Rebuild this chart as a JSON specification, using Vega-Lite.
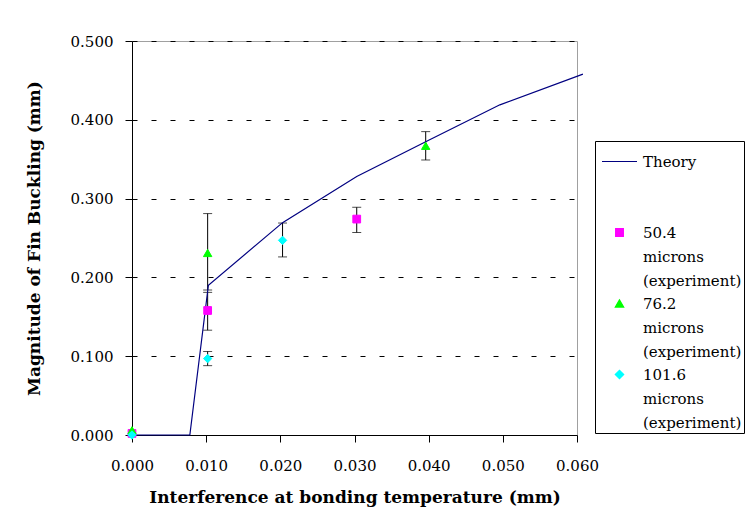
{
  "$schema": "https://vega.github.io/schema/vega-lite/v6.json",
  "autosize": "none",
  "width": 445,
  "height": 394,
  "padding": {"left": 132, "top": 41, "right": 172, "bottom": 77},
  "background": "white",
  "datasets": {
    "theory": [
      {"x": 0.0, "y": 0.0},
      {"x": 0.0078, "y": 0.0},
      {"x": 0.0103, "y": 0.19},
      {"x": 0.0203, "y": 0.2695},
      {"x": 0.0303, "y": 0.328},
      {"x": 0.04, "y": 0.374},
      {"x": 0.0496, "y": 0.419},
      {"x": 0.0608, "y": 0.458}
    ],
    "exp": [
      {"series": "50.4 microns (experiment)", "x": 0.0, "y": 0.002, "lo": null, "hi": null},
      {"series": "50.4 microns (experiment)", "x": 0.0102, "y": 0.158, "lo": 0.133, "hi": 0.181},
      {"series": "50.4 microns (experiment)", "x": 0.0303, "y": 0.274, "lo": 0.257, "hi": 0.289},
      {"series": "76.2 microns (experiment)", "x": 0.0, "y": 0.006, "lo": null, "hi": null},
      {"series": "76.2 microns (experiment)", "x": 0.0102, "y": 0.231, "lo": 0.184, "hi": 0.281},
      {"series": "76.2 microns (experiment)", "x": 0.0396, "y": 0.367, "lo": 0.349, "hi": 0.385},
      {"series": "101.6 microns (experiment)", "x": 0.0, "y": 0.0, "lo": null, "hi": null},
      {"series": "101.6 microns (experiment)", "x": 0.0102, "y": 0.097, "lo": 0.088, "hi": 0.106},
      {"series": "101.6 microns (experiment)", "x": 0.0203, "y": 0.247, "lo": 0.226, "hi": 0.269}
    ]
  },
  "encoding": {
    "x": {
      "field": "x", "type": "quantitative",
      "scale": {"domain": [0, 0.06], "nice": false, "zero": false},
      "axis": {
        "title": "Interference at bonding temperature (mm)",
        "values": [0, 0.01, 0.02, 0.03, 0.04, 0.05, 0.06],
        "format": ".3f",
        "grid": false,
        "domainColor": "black",
        "tickColor": "black",
        "tickSize": 7,
        "labelFont": "DejaVu Serif",
        "labelFontSize": 15,
        "labelColor": "black",
        "labelPadding": 16,
        "labelFlush": false,
        "titleFont": "DejaVu Serif",
        "titleFontSize": 17,
        "titleFontWeight": "bold",
        "titleColor": "black",
        "titlePadding": 16
      }
    },
    "y": {
      "field": "y", "type": "quantitative",
      "scale": {"domain": [0, 0.5], "nice": false},
      "axis": {
        "title": "Magnitude of Fin Buckling (mm)",
        "values": [0, 0.1, 0.2, 0.3, 0.4, 0.5],
        "format": ".3f",
        "grid": true,
        "gridColor": "black",
        "gridDash": [5, 14],
        "gridWidth": 1,
        "domainColor": "black",
        "tickColor": "black",
        "tickSize": 7,
        "labelFont": "DejaVu Serif",
        "labelFontSize": 15,
        "labelColor": "black",
        "labelPadding": 12,
        "titleFont": "DejaVu Serif",
        "titleFontSize": 17,
        "titleFontWeight": "bold",
        "titleColor": "black",
        "titlePadding": 27
      }
    }
  },
  "layer": [
    {
      "data": {"name": "exp"},
      "transform": [{"filter": "datum.lo != null"}],
      "mark": {"type": "rule", "color": "black", "strokeWidth": 1},
      "encoding": {"y": {"field": "lo", "type": "quantitative"}, "y2": {"field": "hi"}}
    },
    {
      "data": {"name": "exp"},
      "transform": [{"filter": "datum.lo != null"}],
      "mark": {"type": "tick", "orient": "horizontal", "size": 9, "thickness": 1, "color": "black"},
      "encoding": {"y": {"field": "lo", "type": "quantitative"}}
    },
    {
      "data": {"name": "exp"},
      "transform": [{"filter": "datum.lo != null"}],
      "mark": {"type": "tick", "orient": "horizontal", "size": 9, "thickness": 1, "color": "black"},
      "encoding": {"y": {"field": "hi", "type": "quantitative"}}
    },
    {
      "data": {"name": "theory"},
      "mark": {"type": "line", "color": "#000080", "strokeWidth": 1.2, "clip": false},
      "encoding": {}
    },
    {
      "data": {"name": "exp"},
      "mark": {"type": "point", "filled": true, "opacity": 1, "strokeWidth": 1},
      "encoding": {
        "color": {
          "field": "series", "type": "nominal",
          "scale": {
            "domain": ["Theory", "50.4 microns (experiment)", "76.2 microns (experiment)", "101.6 microns (experiment)"],
            "range": ["#000080", "#ff00ff", "#00ff00", "#00ffff"]
          },
          "legend": {
            "title": null,
            "orient": "none",
            "legendX": 463,
            "legendY": 100,
            "direction": "vertical",
            "strokeColor": "black",
            "fillColor": "white",
            "padding": 2,
            "symbolOffset": 4,
            "labelOffset": 5,
            "rowPadding": 7,
            "labelFontSize": 15,
            "labelColor": "black",
            "labelFont": "DejaVu Serif",
            "labelLimit": 200,
            "symbolStrokeWidth": 1.2,
            "symbolOpacity": 1,
            "labelExpr": "datum.label == 'Theory' ? ['Theory', '', ''] : split(datum.label, ' ')"
          }
        },
        "stroke": {
          "field": "series", "type": "nominal",
          "scale": {
            "domain": ["Theory", "50.4 microns (experiment)", "76.2 microns (experiment)", "101.6 microns (experiment)"],
            "range": ["#000080", "#ff00ff", "#00ff00", "#00ffff"]
          }
        },
        "shape": {
          "field": "series", "type": "nominal",
          "scale": {
            "domain": ["Theory", "50.4 microns (experiment)", "76.2 microns (experiment)", "101.6 microns (experiment)"],
            "range": ["stroke", "square", "triangle-up", "diamond"]
          }
        },
        "size": {
          "field": "series", "type": "nominal",
          "scale": {
            "type": "ordinal",
            "domain": ["Theory", "50.4 microns (experiment)", "76.2 microns (experiment)", "101.6 microns (experiment)"],
            "range": [1225, 60, 70, 70]
          }
        }
      }
    }
  ],
  "config": {
    "font": "DejaVu Serif",
    "view": {"stroke": "#a0a0a0"},
    "style": {"guide-label": {"lineHeight": 24, "font": "DejaVu Serif"}, "guide-title": {"font": "DejaVu Serif"}}
  }
}
